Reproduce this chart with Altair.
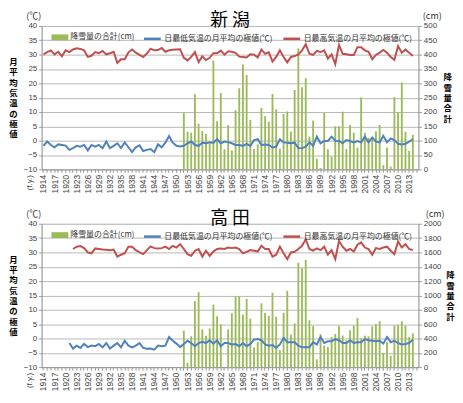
import altair as alt
import pandas as pd

FONT_JP = "Noto Sans CJK JP"
FONT_NUM = "Liberation Sans"

years = list(range(1914, 2016))

S_SNOW = "降雪量の合計(cm)"
S_MIN = "日最低気温の月平均の極値(℃)"
S_MAX = "日最高気温の月平均の極値(℃)"

# ---------------- 新潟 ----------------
niigata_max_start = 1914
niigata_max = [
    30.1, 30.9, 31.5, 30.1, 31.0, 29.4, 31.5, 30.9, 31.8, 32.2,
    32.0, 31.5, 29.2, 29.6, 30.9, 30.5, 31.3, 30.1, 30.5, 31.0,
    27.1, 28.4, 28.4, 30.8, 31.8, 30.7, 29.9, 29.2, 30.4, 32.1,
    31.5, 31.6, 32.3, 31.0, 31.5, 31.7, 31.8, 31.9, 28.9, 28.0,
    29.2, 30.9, 27.4, 29.4, 28.1, 28.9, 30.5, 30.5, 31.4, 30.0,
    31.2, 31.0, 30.6, 29.3, 29.2, 29.0, 30.1, 30.0, 29.0, 31.8,
    30.3, 30.8, 27.6, 29.2, 31.5, 29.2, 27.3, 29.2, 29.5, 30.1,
    31.5, 33.6, 30.3, 29.9, 31.3, 30.9, 31.5, 28.6, 30.1, 26.7,
    33.4, 30.3, 30.1, 29.9, 29.9, 32.6, 32.6, 31.5, 31.0, 28.4,
    29.9, 30.7, 31.6, 30.7, 29.2, 28.2, 33.0, 30.7, 31.8, 30.7,
    29.5,
]
niigata_min_start = 1914
niigata_min = [
    -1.8, -0.3, -1.5, -2.3, -1.3, -1.5, -1.7, -3.2, -2.6, -1.8,
    -2.1, -1.5, -3.4, -1.5, -2.1, -1.5, -2.6, -0.3, -2.6, -1.8,
    -0.9, -2.6, -0.6, -2.3, -4.0, -2.3, -1.6, -3.6, -3.2, -2.9,
    -4.0, -1.3, -2.3, -0.7, 1.6, -0.7, -1.8, -2.0, -1.8, -0.9,
    -0.3, -1.5, -1.8, -0.7, -0.9, -0.6, -0.7, 0.5, -0.9, -0.3,
    -0.5, -0.9, -1.5, -1.5, -1.8, -1.1, -1.8, 0.2, 0.5, -1.5,
    -1.3, -1.5, -2.4, -2.1, 0.5, -0.6, -0.7, -0.9, -0.7, -2.6,
    -2.6, -2.1, -0.6, -1.8, 1.4, -0.9, -0.1, -0.1, 1.4, 0.0,
    -0.1, -0.9, 0.2, -0.1, -0.6, -0.1, -0.6, 1.4, -0.6, 1.1,
    -0.3, -0.6, 1.7, -0.6, 0.8, 0.2, -1.1, -1.3, -1.1, -0.3,
    0.5,
]
niigata_snow_start = 1952
niigata_snow = [
    198, 131, 128, 262, 159, 134, 123, 99, 379, 168,
    266, 70, 154, 66, 206, 283, 366, 329, 173, 71,
    87, 214, 185, 166, 263, 209, 72, 193, 202, 131,
    277, 422, 286, 318, 114, 170, 37, 5, 197, 70,
    45, 150, 150, 201, 71, 155, 128, 76, 251, 128,
    110, 105, 133, 155, 15, 76, 10, 252, 200, 303,
    131, 64, 120,
]

# ---------------- 高田 ----------------
takada_max_start = 1922
takada_max = [
    31.2, 32.0, 32.2, 31.5, 30.0, 29.7, 31.4, 31.2, 31.0, 30.9,
    30.8, 31.0, 28.5, 29.2, 29.7, 32.0, 32.0, 30.8, 30.0, 29.4,
    30.8, 32.1, 31.5, 31.4, 31.5, 32.0, 31.2, 32.3, 31.7, 32.9,
    31.2, 29.4, 28.8, 30.6, 31.2, 28.5, 30.6, 28.8, 30.3, 31.2,
    31.4, 31.2, 31.7, 31.5, 31.7, 31.2, 29.7, 30.2, 30.8, 30.6,
    30.3, 32.3, 31.2, 31.2, 28.5, 29.2, 32.0, 29.7, 27.7, 30.0,
    30.2, 31.2, 32.3, 34.6, 31.2, 30.6, 31.4, 30.8, 32.0, 29.2,
    30.8, 27.7, 34.0, 32.0, 30.6, 31.2, 30.3, 32.7, 33.5, 31.7,
    31.2, 29.2, 31.5, 31.2, 31.7, 32.0, 30.6, 29.4, 33.8, 31.7,
    32.9, 31.2, 30.8,
]
takada_min_start = 1921
takada_min = [
    -1.6, -3.5, -2.5, -3.3, -1.9, -3.0, -2.5, -2.7, -1.9, -3.1,
    -1.6, -3.5, -2.5, -1.6, -3.1, -0.8, -2.5, -3.1, -2.5, -1.6,
    -3.3, -3.6, -3.5, -3.9, -2.5, -2.7, -2.5, 0.5, -0.8, -1.8,
    -3.0, -1.9, -0.8, -1.6, -2.7, -1.6, -1.2, -1.6, -0.6, -1.8,
    -0.6, -2.7, -1.6, -1.6, -2.1, -1.9, -2.7, -1.6, -2.7, -1.9,
    -0.4, -0.2, -0.6, -2.1, -2.5, -2.3, -3.3, -2.1, 0.2, -1.3,
    -1.3, -1.3, -2.5, -3.1, -3.1, -3.1, -1.3, -2.1, 0.5, -1.6,
    -1.0, -1.0, -0.2, -0.6, -1.6, -1.6, -0.6, -1.6, -1.3, -1.3,
    -0.2, -0.6, -0.8, -1.0, -0.8, -1.8, 0.5, -1.3, -0.8, -1.6,
    -2.1, -1.9, -1.6, -0.4,
]
takada_snow_start = 1952
takada_snow = [
    510, 60, 430, 922, 1044, 526, 437, 540, 873, 710,
    596, 0, 526, 752, 988, 988, 735, 952, 675, 275,
    350, 890, 756, 715, 1038, 701, 236, 760, 1065, 455,
    608, 1455, 1380, 1497, 652, 572, 108, 460, 300, 282,
    421, 463, 579, 440, 375, 514, 579, 685, 400, 440,
    430, 570, 600, 640, 200, 350, 160, 580, 590, 640,
    575, 420, 470,
]

temp_ticks = [-10, -5, 0, 5, 10, 15, 20, 25, 30, 35, 40]
niigata_cm_ticks = [0, 50, 100, 150, 200, 250, 300, 350, 400, 450, 500]
takada_cm_ticks = [0, 200, 400, 600, 800, 1000, 1200, 1400, 1600, 1800, 2000]

left_title = list("月平均気温の極値")
right_title = list("降雪量合計")

GREEN = "#9BBB59"
BLUE = "#4F81BD"
RED = "#C0504D"

W, H = 381, 145
LH = 10.5
TFS = 8.5


def series_df(start, values, name, col):
    return pd.DataFrame({"year": list(range(start, start + len(values))),
                         col: values, "series": name})


def panel(title, max_start, max_v, min_start, min_v, snow_start, snow_v,
          cm_ticks, right_title_x, cm_x):
    snow_df = series_df(snow_start, snow_v, S_SNOW, "cm")
    temp_df = pd.concat([series_df(min_start, min_v, S_MIN, "temp"),
                         series_df(max_start, max_v, S_MAX, "temp")])

    x = alt.X(
        "year:O",
        scale=alt.Scale(domain=years, paddingInner=0.5, paddingOuter=0.25),
        axis=alt.Axis(
            title="(f.y.)", titleAngle=270, titleX=-12, titleY=13,
            titleAlign="center", titleBaseline="middle",
            titleFont=FONT_NUM, titleFontSize=8, titleFontWeight="normal",
            titleColor="#444",
            labelAngle=270, labelFont=FONT_NUM, labelFontSize=8.5,
            labelColor="#444", labelPadding=2, labelOverlap=False,
            labelExpr="(datum.value - 1914) % 3 === 0 ? datum.label : ''",
            tickSize=3, tickColor="#999", domainColor="#999", grid=False,
        ),
    )

    bars = alt.Chart(snow_df).mark_bar(opacity=1).encode(
        x=x,
        y=alt.Y(
            "cm:Q",
            scale=alt.Scale(domain=[cm_ticks[0], cm_ticks[-1]], nice=False),
            axis=alt.Axis(
                orient="right", values=cm_ticks, grid=False, format="d",
                title=right_title, titleAngle=0, titleX=right_title_x,
                titleY=H / 2 - (len(right_title) - 1) * LH / 2,
                titleAlign="center", titleBaseline="middle",
                titleFont=FONT_JP, titleFontSize=TFS, titleFontWeight="bold",
                titleLineHeight=LH, titleColor="#000",
                labelFont=FONT_NUM, labelFontSize=8, labelColor="#444",
                tickSize=3, tickColor="#999", domainColor="#999",
            ),
        ),
        fill=alt.Fill(
            "series:N",
            scale=alt.Scale(domain=[S_SNOW], range=[GREEN]),
            legend=alt.Legend(
                title=None, orient="none", legendX=10, legendY=3,
                direction="horizontal", labelFont=FONT_JP, labelFontSize=8,
                labelColor="#333", symbolType="M-1,-0.35H1V0.35H-1Z",
                symbolSize=289, symbolStrokeWidth=0, symbolOpacity=1,
                labelOffset=2,
            ),
        ),
    )

    lines = alt.Chart(temp_df).mark_line(strokeWidth=2).encode(
        x=x,
        y=alt.Y(
            "temp:Q",
            scale=alt.Scale(domain=[-10, 40], nice=False),
            axis=alt.Axis(
                orient="left", values=temp_ticks, grid=True,
                gridColor="#b8b8b8", gridWidth=1,
                title=left_title, titleAngle=0, titleX=-29,
                titleY=H / 2 - (len(left_title) - 1) * LH / 2,
                titleAlign="center", titleBaseline="middle",
                titleFont=FONT_JP, titleFontSize=TFS, titleFontWeight="bold",
                titleLineHeight=LH, titleColor="#000",
                labelFont=FONT_NUM, labelFontSize=8, labelColor="#444",
                tickSize=3, tickColor="#999", domainColor="#999",
            ),
        ),
        stroke=alt.Stroke(
            "series:N",
            scale=alt.Scale(domain=[S_MIN, S_MAX], range=[BLUE, RED]),
            legend=alt.Legend(
                title=None, orient="none", legendX=102, legendY=3,
                direction="horizontal", labelFont=FONT_JP, labelFontSize=8,
                labelColor="#333", symbolType="stroke", symbolSize=289,
                symbolStrokeWidth=2.5, columnPadding=5, labelOffset=2,
            ),
        ),
    )

    unit_l = alt.Chart(pd.DataFrame({"t": ["(℃)"]})).mark_text(
        font=FONT_JP, fontSize=9, color="#333", align="center", baseline="middle"
    ).encode(text="t:N", x=alt.value(-8), y=alt.value(-10))
    unit_r = alt.Chart(pd.DataFrame({"t": ["(cm)"]})).mark_text(
        font=FONT_JP, fontSize=9, color="#333", align="center", baseline="middle"
    ).encode(text="t:N", x=alt.value(cm_x), y=alt.value(-10))

    return alt.layer(bars, lines, unit_l, unit_r).resolve_scale(
        y="independent"
    ).properties(
        width=W, height=H,
        title=alt.Title(title, font=FONT_JP, fontSize=18, fontWeight="normal",
                        color="#000", anchor="middle", frame="group", offset=-18),
    )


p1 = panel("新 潟", niigata_max_start, niigata_max, niigata_min_start, niigata_min,
           niigata_snow_start, niigata_snow, niigata_cm_ticks, 29, 395)
p2 = panel("高 田", takada_max_start, takada_max, takada_min_start, takada_min,
           takada_snow_start, takada_snow, takada_cm_ticks, 32, 398)

chart = alt.vconcat(p1, p2, spacing=15).resolve_scale(
    y="independent", fill="independent", stroke="independent"
).resolve_legend(fill="independent", stroke="independent").properties(
    padding={"left": 0, "top": 1, "right": 0, "bottom": 0}
).configure_view(stroke=None).configure(background="white")

chart.save("out.html", embed_options={"renderer": "svg", "actions": False})
